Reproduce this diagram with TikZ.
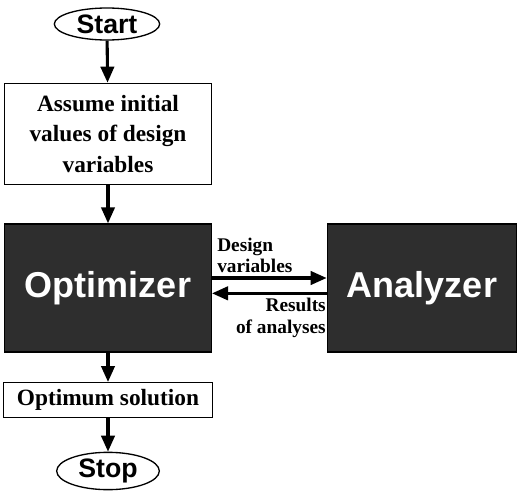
\documentclass[tikz,border=0pt]{standalone}
\usepackage{fontspec}
\setmainfont{Liberation Serif}
\setsansfont{Liberation Sans}
\usetikzlibrary{shapes.geometric,arrows.meta}

\begin{document}
\begin{tikzpicture}[x=0.75pt,y=-0.75pt,
		flow/.style={line width=2.3pt,-{Triangle[length=12pt,width=10pt]}},
		term/.style={ellipse,draw,line width=1pt,inner sep=0pt,font=\sffamily\bfseries\fontsize{20}{20}\selectfont},
		box/.style={draw,line width=1pt,align=center,inner sep=0pt,font=\bfseries\fontsize{17.5}{23}\selectfont},
		dark/.style={draw,line width=1pt,fill=black!82,text=white,inner sep=0pt,font=\sffamily\bfseries\fontsize{27}{27}\selectfont},
		lbl/.style={inner sep=0pt,font=\bfseries\fontsize{14.5}{16}\selectfont}]
		\useasboundingbox (0,0) rectangle (519,496);
		\node[term,minimum width=79pt,minimum height=24pt] (start) at (107,24) {Start};
		\node[box,minimum width=155pt,minimum height=76pt] (init) at (108,134) {Assume initial\\values of design\\variables};
		\node[dark,minimum width=155pt,minimum height=96pt] (opt) at (108,288) {Optimizer};
		\node[dark,minimum width=142pt,minimum height=96pt] (ana) at (422,288) {Analyzer};
		\node[box,minimum width=157pt,minimum height=26pt] (sol) at (108,400) {Optimum solution};
		\node[term,minimum width=77pt,minimum height=28pt] (stop) at (108,471) {Stop};
		\draw[flow] (start) -- (init);
		\draw[flow] (init) -- (opt);
		\draw[flow] (opt) -- (sol);
		\draw[flow] (sol) -- (stop);
		\draw[flow] ([yshift=7.5pt]opt.east) -- ([yshift=7.5pt]ana.west);
		\draw[flow] ([yshift=-4pt]ana.west) -- ([yshift=-4pt]opt.east);
		\node[lbl,anchor=south west,align=left] (dv) at (217,273) {Design\\variables};
		\node[lbl,anchor=north east,align=right] (res) at (326,298) {Results\\of analyses};
	\end{tikzpicture}
\end{document}
